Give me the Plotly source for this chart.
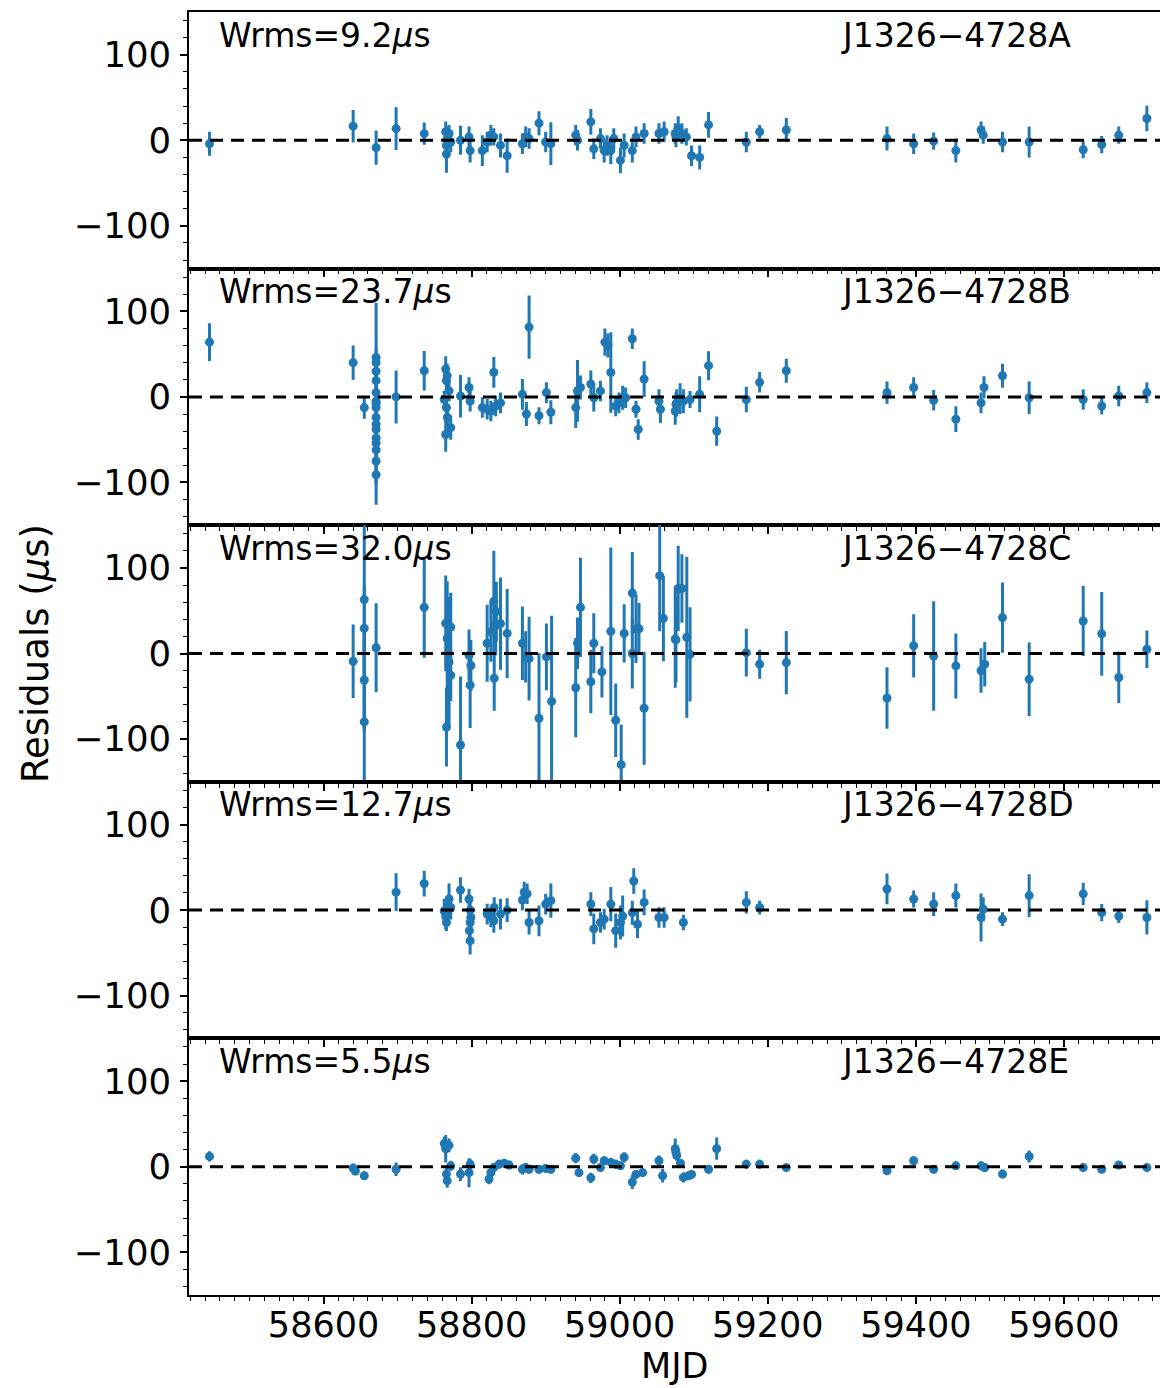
import plotly.graph_objects as go
from plotly.subplots import make_subplots

# ---------------- data ----------------
pulsar_names = ["J1326\u22124728A", "J1326\u22124728B", "J1326\u22124728C", "J1326\u22124728D", "J1326\u22124728E"]
wrms_values = [9.2, 23.7, 32.0, 12.7, 5.5]

mjd_a = [58446, 58640, 58671, 58698, 58736, 58765, 58767, 58765.9, 58766, 58769.5, 58771.8, 58785, 58796.5, 58798,
         58814.5, 58821, 58826, 58830, 58839, 58848, 58868.6, 58873, 58877.6, 58891, 58900, 58907, 58940.6, 58943,
         58961, 58965, 58974, 58979, 58983, 58988, 58992, 59001, 59006, 59017, 59022, 59033, 59053, 59060, 59076,
         59075, 59079, 59084, 59090, 59097, 59108, 59120, 59171, 59189, 59225, 59361, 59397, 59424, 59454, 59488,
         59491, 59517, 59553, 59626, 59651, 59674, 59712]
res_a = [-4, 16.5, -8.6, 13.7, 7.8, 10, 2, -6, -16, 8, -2, 0, 4, -12,
         -12, -2, 6, 4, -6, -18, -4, 4, 2, 20, -2, -4, 6, 0,
         21.6, -10, 2, -12, -6, -12, 2, -23.5, -6, -12, 4, 8, 8, 10, 4,
         8, 14, 8, 4, -18, -20, 18, -2, 10, 12, 2, -4, -1, -12, 12,
         6, -2, -2, -11, -5, 6, 25.5]
err_a = [14, 19, 20, 25, 13, 12, 14, 16, 22, 10, 12, 17, 12, 14,
         18, 12, 12, 10, 14, 20, 12, 12, 12, 14, 12, 25, 12, 12,
         15, 12, 12, 14, 12, 16, 12, 15, 14, 14, 12, 12, 12, 12, 12,
         12, 14, 12, 10, 12, 14, 15, 12, 8, 14, 14, 12, 10, 14, 10,
         10, 12, 18, 10, 10, 10, 15]

mjd_b = [58446, 58640, 58655,
         58671, 58671, 58671, 58671, 58671, 58671, 58671, 58671, 58671, 58671, 58671, 58671, 58671, 58671, 58671, 58671,
         58698, 58736, 58765, 58767, 58765.9, 58769.5, 58763, 58766, 58767.3, 58771.8, 58765,
         58785, 58796.5, 58798, 58814.5, 58821, 58826, 58830, 58832.5, 58839, 58868.6, 58874, 58877.6, 58891, 58901,
         58907, 58940.6, 58943, 58947, 58961, 58965, 58974, 58980, 58984, 58988, 58994.6, 58999, 59004, 59008, 59017,
         59022, 59025, 59033, 59053, 59055, 59076,
         59075, 59077, 59081.6, 59086, 59095, 59108, 59120, 59131, 59171, 59189, 59225, 59361, 59397, 59424, 59454,
         59488, 59492, 59517, 59553, 59626, 59651, 59674, 59712]
res_b = [64, 40, -12.5,
         46, 40, 30, 19, 5, -5, -12.5, -24, -32, -38, -48, -54, -62, -75, -91, -8,
         0, 30.6, 32.5, 24.7, 19, 7, -3, -12.5, -24, -36, -44,
         1, 11, -5, -12.5, -14.5, -16.5, 28.6, -10.6, -7, 3, -20, 81.6, -22, 5,
         -18, -12.5, 7, 11, 15, -1, 7, 64, 60, 28.6, -10.6, -7, -1, -1, 68,
         -14.5, -38, 20.8, -5, -14.5, -8.6,
         -16.5, -7, -2, -5, -3, 3, 36.5, -40, -3, 17, 30.6, 5, 11, -4, -26,
         -7, 11, 24.7, -1, -3, -10.6, 1, 5]
err_b = [22, 20, 13,
         10, 10, 10, 10, 10, 10, 10, 10, 10, 10, 10, 10, 10, 12, 12, 118,
         31, 23, 15, 14, 12, 12, 10, 14, 14, 14, 20,
         25, 12, 12, 12, 12, 12, 18, 12, 12, 18, 14, 37, 10, 12,
         14, 24, 36, 14, 16, 16, 12, 16, 14, 47, 12, 12, 14, 12, 12,
         10, 12, 21, 14, 16, 14,
         16, 16, 18, 14, 10, 21, 17, 17, 15, 12, 14, 13, 12, 12, 15,
         12, 13, 14, 19, 12, 10, 12, 12]

mjd_c = [58640, 58655, 58655, 58655, 58655, 58671, 58736,
         58765, 58767, 58771.8, 58771.8, 58766, 58769.5, 58785, 58796.5, 58799, 58798,
         58821, 58826, 58830, 58832.5, 58830.5, 58833.4, 58839, 58848, 58868.6, 58873, 58877.6, 58891, 58901, 58908,
         58940.6, 58943, 58947, 58961, 58965, 58976, 58988, 58994.6, 59002, 59006, 59017, 59017, 59022, 59026,
         59033, 59054, 59059, 59076,
         59075, 59079, 59084, 59090.6, 59095, 59171, 59189, 59225, 59361, 59397, 59424, 59454, 59488, 59493,
         59517, 59553, 59626, 59651, 59674, 59712]
res_c = [-9, 63, 29.4, -31, -80, 6.7, 54,
         35.3, 17.6, 31, -25.5, -86, -10, -107, -2, -14, -37,
         12, 25.5, 61, 33, -29, 49, 35, 23.5, 12, -4, -6, -75.7, -4, -56,
         -40, 12, 54, -33, 12, -21.5, 26, -78, -130, 23.5, 70.6, 0, 29, 29,
         -64, 91, 41, 16,
         17, 76, 76, 19, -1, 1, -12.5, -10.6, -52, 9, -3, -14.5, -20, -12.5,
         42, -30, 38, 23, -28, 5]
err_c = [43, 150, 50, 60, 100, 52, 59,
         56, 67, 40, 30, 46, 76, 80, 30, 30, 50,
         45, 35, 59, 35, 38, 35, 54, 52, 43, 30, 49, 76, 39, 100,
         58, 30, 58, 37, 35, 30, 98, 43, 47, 34, 48, 41, 40, 30,
         66, 65, 50, 50,
         57, 50, 40, 94, 55, 28, 17, 37, 36, 37, 64, 38, 26, 26,
         41, 43, 41, 49, 30, 22]

mjd_d = [58698, 58736, 58763, 58765, 58766, 58769.5, 58771.8, 58767,
         58785, 58796.5, 58798, 58799, 58798, 58797, 58798,
         58821, 58826, 58830, 58830.5, 58839, 58848, 58868.6, 58871, 58875, 58877.6, 58891, 58900, 58907,
         58961, 58965, 58974, 58979, 58988, 58994.6, 59001, 59004, 59017, 59019, 59024, 59033, 59053, 59060,
         59086, 59171, 59189, 59361, 59397, 59424, 59454, 59488, 59491, 59517, 59553, 59626, 59651, 59674, 59712]
res_d = [21, 31, -1, -7, -14.5, 13, 3, -3,
         23.5, 13, 0, -8.6, -14.5, -24, -36,
         -4.7, -8, -12.5, 3, -4.7, 0, 11.8, 21, 19, -14.5, -12.5, 7, 11,
         7, -22, -14.5, -10.6, 7, -24, -14.5, -7, -3, 34, -16.5, 9, -8.6, -8.6,
         -14.5, 9, 3, 24.7, 13, 7, 17, -8.6, 1, -10.6, 17, 19, -3, -7, -8.6]
err_d = [22, 15, 14, 16, 10, 18, 14, 12,
         15, 12, 14, 12, 12, 12, 16,
         12, 12, 14, 12, 18, 14, 12, 12, 12, 14, 18, 12, 20,
         14, 18, 12, 12, 20, 20, 20, 24, 14, 15, 16, 15, 12, 12,
         9, 13, 8, 18, 10, 14, 14, 28, 14, 8, 25, 13, 10, 8, 20]

mjd_e = [58446, 58640, 58643, 58655, 58698,
         58765, 58763, 58766, 58767, 58769.5, 58771.8, 58785, 58796.5, 58798,
         58823.5, 58826, 58830, 58837, 58844, 58850.5, 58868.6, 58873, 58877.6, 58891, 58900, 58907,
         58940.6, 58945, 58961, 58965, 58974, 58979, 58988, 58994.6, 59001, 59006, 59017, 59022, 59031, 59053,
         59058, 59076,
         59075, 59077, 59082, 59086, 59093, 59097, 59120, 59131, 59171, 59189, 59225, 59361, 59397, 59424, 59454,
         59488, 59493, 59517, 59553, 59626, 59651, 59674, 59712]
res_e = [12, -1.6, -5, -10.6, -3,
         21, 27, -8.6, -16.5, 25, 1, -8.6, -7, 3,
         -14.5, -7, -1, 3, 4, 2, -3, -1, -3, -3, -2, -3,
         10, -7, -13, 9, -1, 7, 5, 3, 1, 11, -18, -9, -7, 7,
         -10.6, 17,
         21, 13, 4, -12.5, -10.6, -9, -3, 21, 3, 3, -1, -4.7, 7, -3, 1,
         1, -1, -8.6, 12, -1, -3, 2, -1]
err_e = [6, 5, 5, 5, 8,
         16, 8, 8, 8, 8, 6, 8, 17, 6,
         6, 5, 5, 5, 5, 5, 6, 5, 5, 5, 5, 5,
         6, 5, 6, 6, 5, 5, 5, 5, 5, 6, 8, 5, 5, 6,
         8, 6,
         12, 6, 5, 6, 5, 5, 5, 13, 5, 5, 4, 5, 5, 5, 5,
         5, 5, 5, 7, 4, 4, 4, 4]

x_range = [58418.3, 59729.7]
y_range = [-150, 150]
x_title = "MJD"
y_title = "Residuals (<i>\u03bc</i>s)"

# ---------------- figure ----------------
BLUE = "#1f77b4"
FONT = "DejaVu Sans"
panels = [(mjd_a, res_a, err_a), (mjd_b, res_b, err_b), (mjd_c, res_c, err_c),
          (mjd_d, res_d, err_d), (mjd_e, res_e, err_e)]

fig = make_subplots(rows=5, cols=1, shared_xaxes=True, vertical_spacing=0)

for i, (xs, ys, es) in enumerate(panels):
    row = i + 1
    fig.add_trace(go.Scatter(
        x=xs, y=ys, mode="markers",
        marker=dict(size=9, color=BLUE),
        error_y=dict(type="data", array=es, visible=True, thickness=3, width=0, color=BLUE),
        showlegend=False), row=row, col=1)

    sfx = "" if row == 1 else str(row)
    fig.add_shape(type="line", xref=f"x{sfx} domain", yref=f"y{sfx}",
                  x0=0, x1=1, y0=0, y1=0,
                  line=dict(color="black", width=3, dash="13px,8px"), layer="above")

    fig.add_annotation(xref=f"x{sfx} domain", yref=f"y{sfx} domain", x=0.029, y=0.91,
                       xanchor="left", yanchor="middle", showarrow=False,
                       text=f"Wrms={wrms_values[i]:.1f}<i>\u03bc</i>s",
                       font=dict(family=FONT, size=33, color="black"))
    fig.add_annotation(xref=f"x{sfx} domain", yref=f"y{sfx} domain", x=0.6695, y=0.91,
                       xanchor="left", yanchor="middle", showarrow=False,
                       text=pulsar_names[i],
                       font=dict(family=FONT, size=33, color="black"))

    fig.update_yaxes(range=y_range, tick0=0, dtick=100, ticks="outside", ticklen=7, tickwidth=1.5,
                     tickcolor="black", showline=True, linecolor="black", linewidth=1.5, mirror=False,
                     showgrid=False, zeroline=False, ticklabelstandoff=2,
                     tickfont=dict(family=FONT, size=35.5, color="black"),
                     minor=dict(dtick=20, tick0=0, ticks="outside", ticklen=4, tickwidth=1.2, tickcolor="black"),
                     row=row, col=1)
    fig.update_xaxes(range=x_range, tick0=58600, dtick=200, tickformat="d", ticks="outside", ticklen=7,
                     tickwidth=1.5, tickcolor="black", showline=True, linecolor="black", linewidth=1.5,
                     mirror=True, showgrid=False, zeroline=False, ticklabelstandoff=-9,
                     tickfont=dict(family=FONT, size=35, color="black"),
                     minor=dict(dtick=20, tick0=58600, ticks="outside", ticklen=4, tickwidth=1.2, tickcolor="black"),
                     showticklabels=(row == 5),
                     row=row, col=1)

fig.add_annotation(xref="paper", yref="paper", x=-0.158, y=0.5, textangle=-90,
                   xanchor="center", yanchor="middle", showarrow=False, text=y_title,
                   font=dict(family=FONT, size=37, color="black"))
fig.add_annotation(xref="paper", yref="paper", x=0.5, y=-(1366 - 1295) / 1283,
                   xanchor="center", yanchor="middle", showarrow=False, text=x_title,
                   font=dict(family=FONT, size=35, color="black"))

fig.update_layout(width=1160, height=1388, margin=dict(l=189, r=0, t=12, b=93),
                  plot_bgcolor="white", paper_bgcolor="white",
                  font=dict(family=FONT, color="black"))

fig.write_html("out.html")
